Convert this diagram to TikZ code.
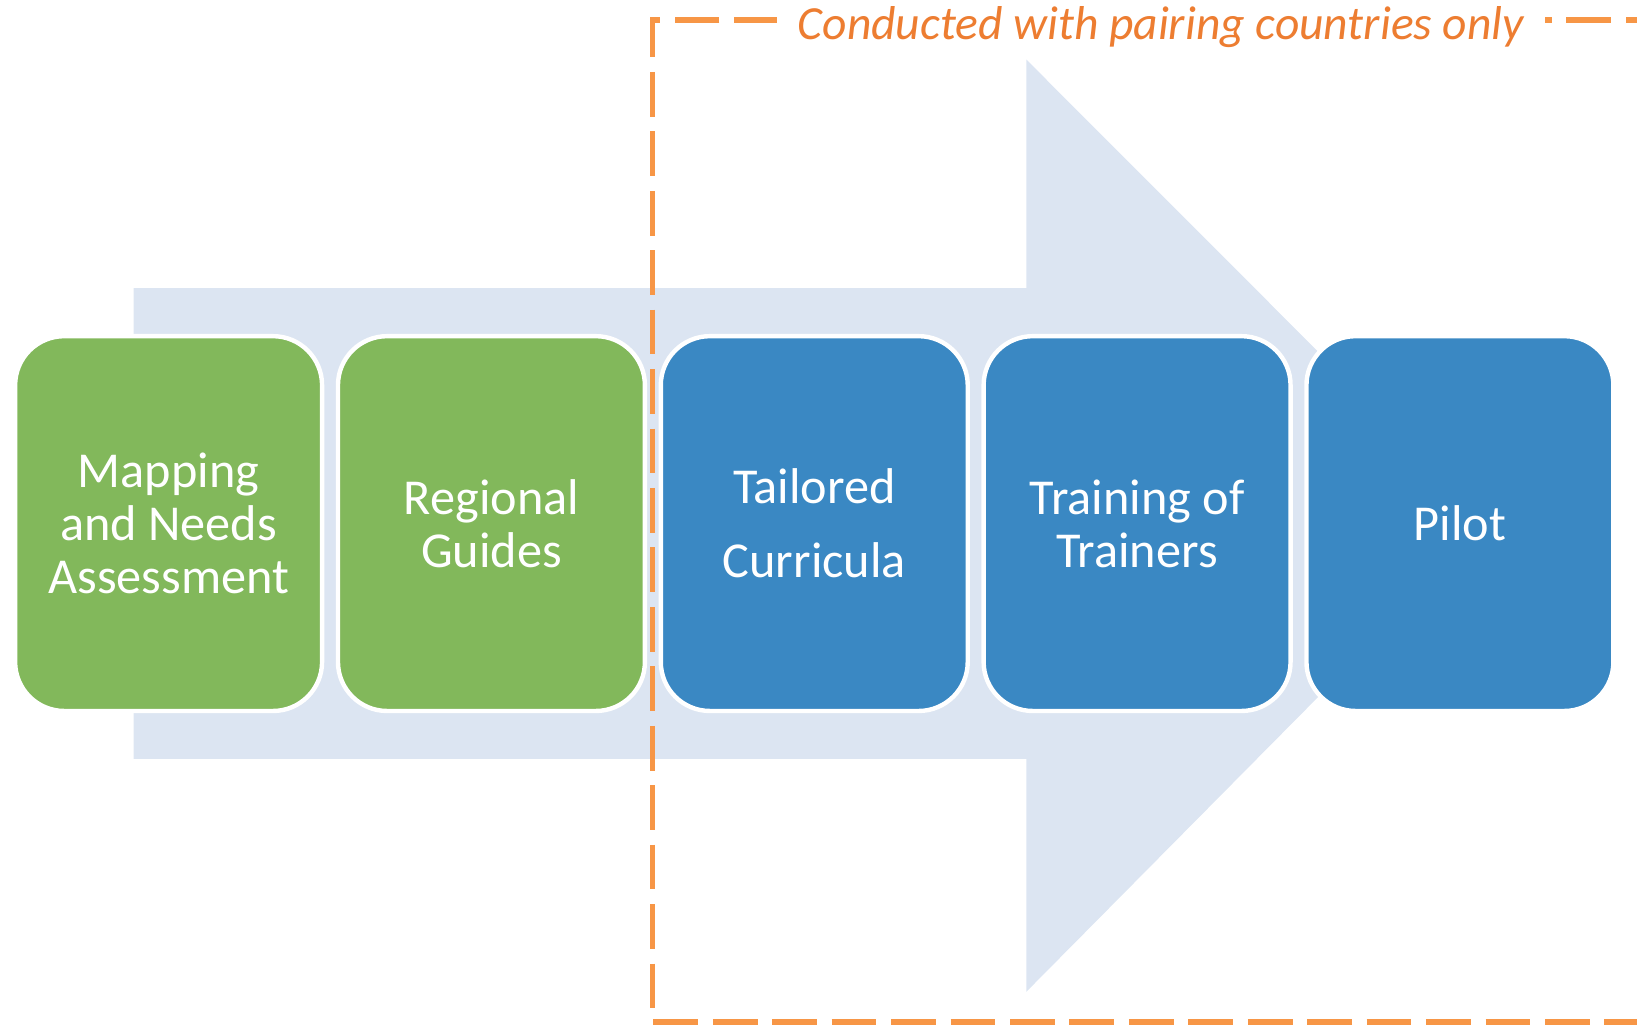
\documentclass[tikz,border=0pt]{standalone}
\usepackage{xcolor}
\usepackage{fontspec}
\setmainfont{Carlito}
\usepackage{tikz}
\usetikzlibrary{positioning}
\definecolor{arrowbg}{HTML}{DCE5F2}
\definecolor{stepgreen}{HTML}{82B85B}
\definecolor{stepblue}{HTML}{3A88C3}
\definecolor{dashorange}{HTML}{F79646}
\definecolor{noteorange}{HTML}{ED7D31}

\begin{document}
\begin{tikzpicture}[
    every node/.style={font=\fontsize{13.7}{14.5}\selectfont, text=white, align=center},
    stepbox/.style={draw=white, line width=1.2pt, rounded corners=0.47cm,
        minimum width=2.94cm, minimum height=3.59cm, inner sep=0pt},
    greenstep/.style={stepbox, fill=stepgreen},
    bluestep/.style={stepbox, fill=stepblue}]
   % Page size (the dashed frame runs off the right edge)
   \useasboundingbox (0,0) rectangle (15.68,-9.82);
    % Big background arrow (always before the steps!!)
    \fill[arrowbg] (1.28,-2.76) -- (9.83,-2.76) -- (9.83,-0.57) -- (14.27,-5.015)
        -- (9.83,-9.50) -- (9.83,-7.27) -- (1.28,-7.27) -- cycle;
    % Dashed frame round the paired steps
    \draw[dashorange, line width=1.5pt, dash pattern=on 12.2pt off 4pt]
        (16,-0.19) -- (6.25,-0.19) -- (6.25,-9.79) -- (16,-9.79);
    \node[fill=white, text=noteorange, font=\fontsize{12.95}{15}\selectfont\itshape,
        inner xsep=0.2cm, inner ysep=1pt, anchor=base] (note) at (11.12,-0.375)
        {Conducted with pairing countries only};
    % Steps
    \node[greenstep] (mapping) at (1.615,-5.015) {Mapping\\and Needs\\Assessment};
    \node[greenstep, right=0.11cm of mapping] (guides) {Regional\\Guides};
    \node[bluestep, right=0.11cm of guides] (curricula) {Tailored\\[5.7pt]Curricula};
    \node[bluestep, right=0.11cm of curricula] (trainers) {Training of\\Trainers};
    \node[bluestep, right=0.11cm of trainers] (pilot) {Pilot};
\end{tikzpicture}
\end{document}
